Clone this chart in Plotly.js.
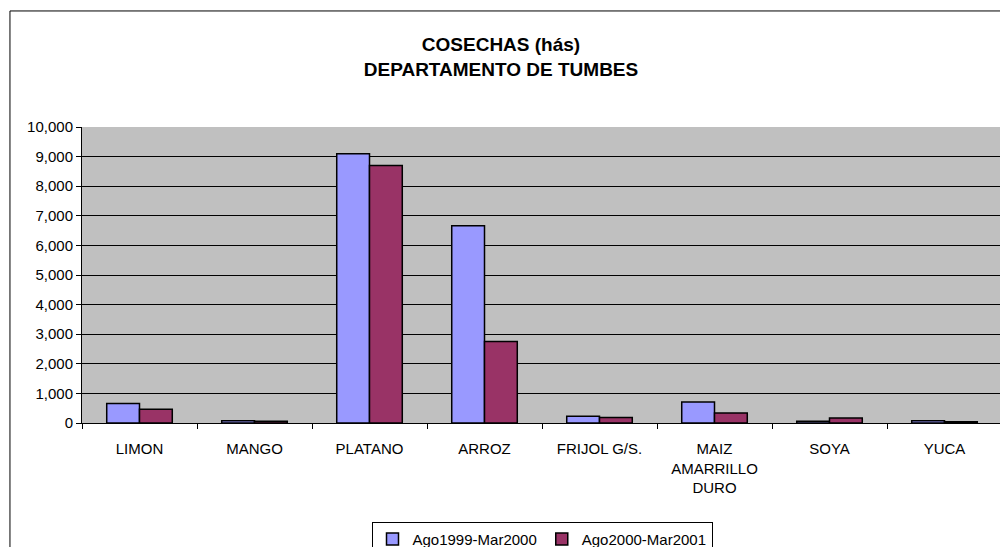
<!DOCTYPE html>
<html>
<head>
<meta charset="utf-8">
<script src="https://cdn.plot.ly/plotly-3.0.1.min.js"></script>
<style>html,body{margin:0;padding:0;overflow:hidden;background:#fff;}#chart{width:1002px;height:547px;}</style>
</head>
<body>
<div id="chart"></div>
<script>
const categories = ["LIMON", "MANGO", "PLATANO", "ARROZ", "FRIJOL G/S.", "MAIZ<br>AMARRILLO<br>DURO", "SOYA", "YUCA"];
const seriesNames = ["Ago1999-Mar2000", "Ago2000-Mar2001"];
const values1999 = [660, 80, 9100, 6660, 225, 710, 55, 80];
const values2000 = [465, 55, 8700, 2755, 185, 340, 170, 45];
const yTickVals = [0, 1000, 2000, 3000, 4000, 5000, 6000, 7000, 8000, 9000, 10000];

const font = "Liberation Sans, Arial, sans-serif";
const data = [
  {type: "bar", name: seriesNames[0], x: categories, y: values1999,
   marker: {color: "#9999FF", line: {color: "#000000", width: 1.5}}},
  {type: "bar", name: seriesNames[1], x: categories, y: values2000,
   marker: {color: "#993366", line: {color: "#000000", width: 1.5}}}
];
const layout = {
  width: 1002, height: 547,
  margin: {l: 82, r: 0, t: 127, b: 124, autoexpand: false},
  paper_bgcolor: "#FFFFFF",
  plot_bgcolor: "#C0C0C0",
  font: {family: font, size: 15, color: "#000"},
  title: {text: "<b>COSECHAS (hás)<br>DEPARTAMENTO DE TUMBES</b>", x: 0.5, xanchor: "center",
          yref: "container", y: 0.906, yanchor: "top",
          font: {family: font, size: 19, color: "#000"}},
  barmode: "group", bargap: 0.43, bargroupgap: 0,
  showlegend: true,
  legend: {orientation: "h", x: 0.5, xanchor: "center", yref: "container", y: 0.046, yanchor: "top",
           bgcolor: "#FFFFFF", bordercolor: "#000000", borderwidth: 1, itemwidth: 30,
           font: {family: font, size: 15}, traceorder: "normal"},
  xaxis: {type: "category", showline: true, linecolor: "#000", linewidth: 1,
          ticks: "outside", tickson: "boundaries", ticklen: 5, tickcolor: "#000", ticklabelstandoff: 12,
          tickfont: {family: font, size: 15}, showgrid: false, fixedrange: true, automargin: false},
  yaxis: {range: [0, 10000], tickvals: yTickVals, tickformat: ",d", showline: true, linecolor: "#000", linewidth: 1,
          ticks: "outside", ticklen: 5, tickcolor: "#000", gridcolor: "#000", gridwidth: 1,
          zeroline: true, zerolinecolor: "#000", tickfont: {family: font, size: 15}, fixedrange: true, automargin: false},
  shapes: [{type: "rect", xref: "paper", yref: "paper", x0: -0.0783, x1: 1.2, y0: -0.6, y1: 1.392,
            line: {color: "#000", width: 1}, fillcolor: "rgba(0,0,0,0)", layer: "below"}]
};
Plotly.newPlot("chart", data, layout, {displayModeBar: false, staticPlot: true});
</script>
</body>
</html>
